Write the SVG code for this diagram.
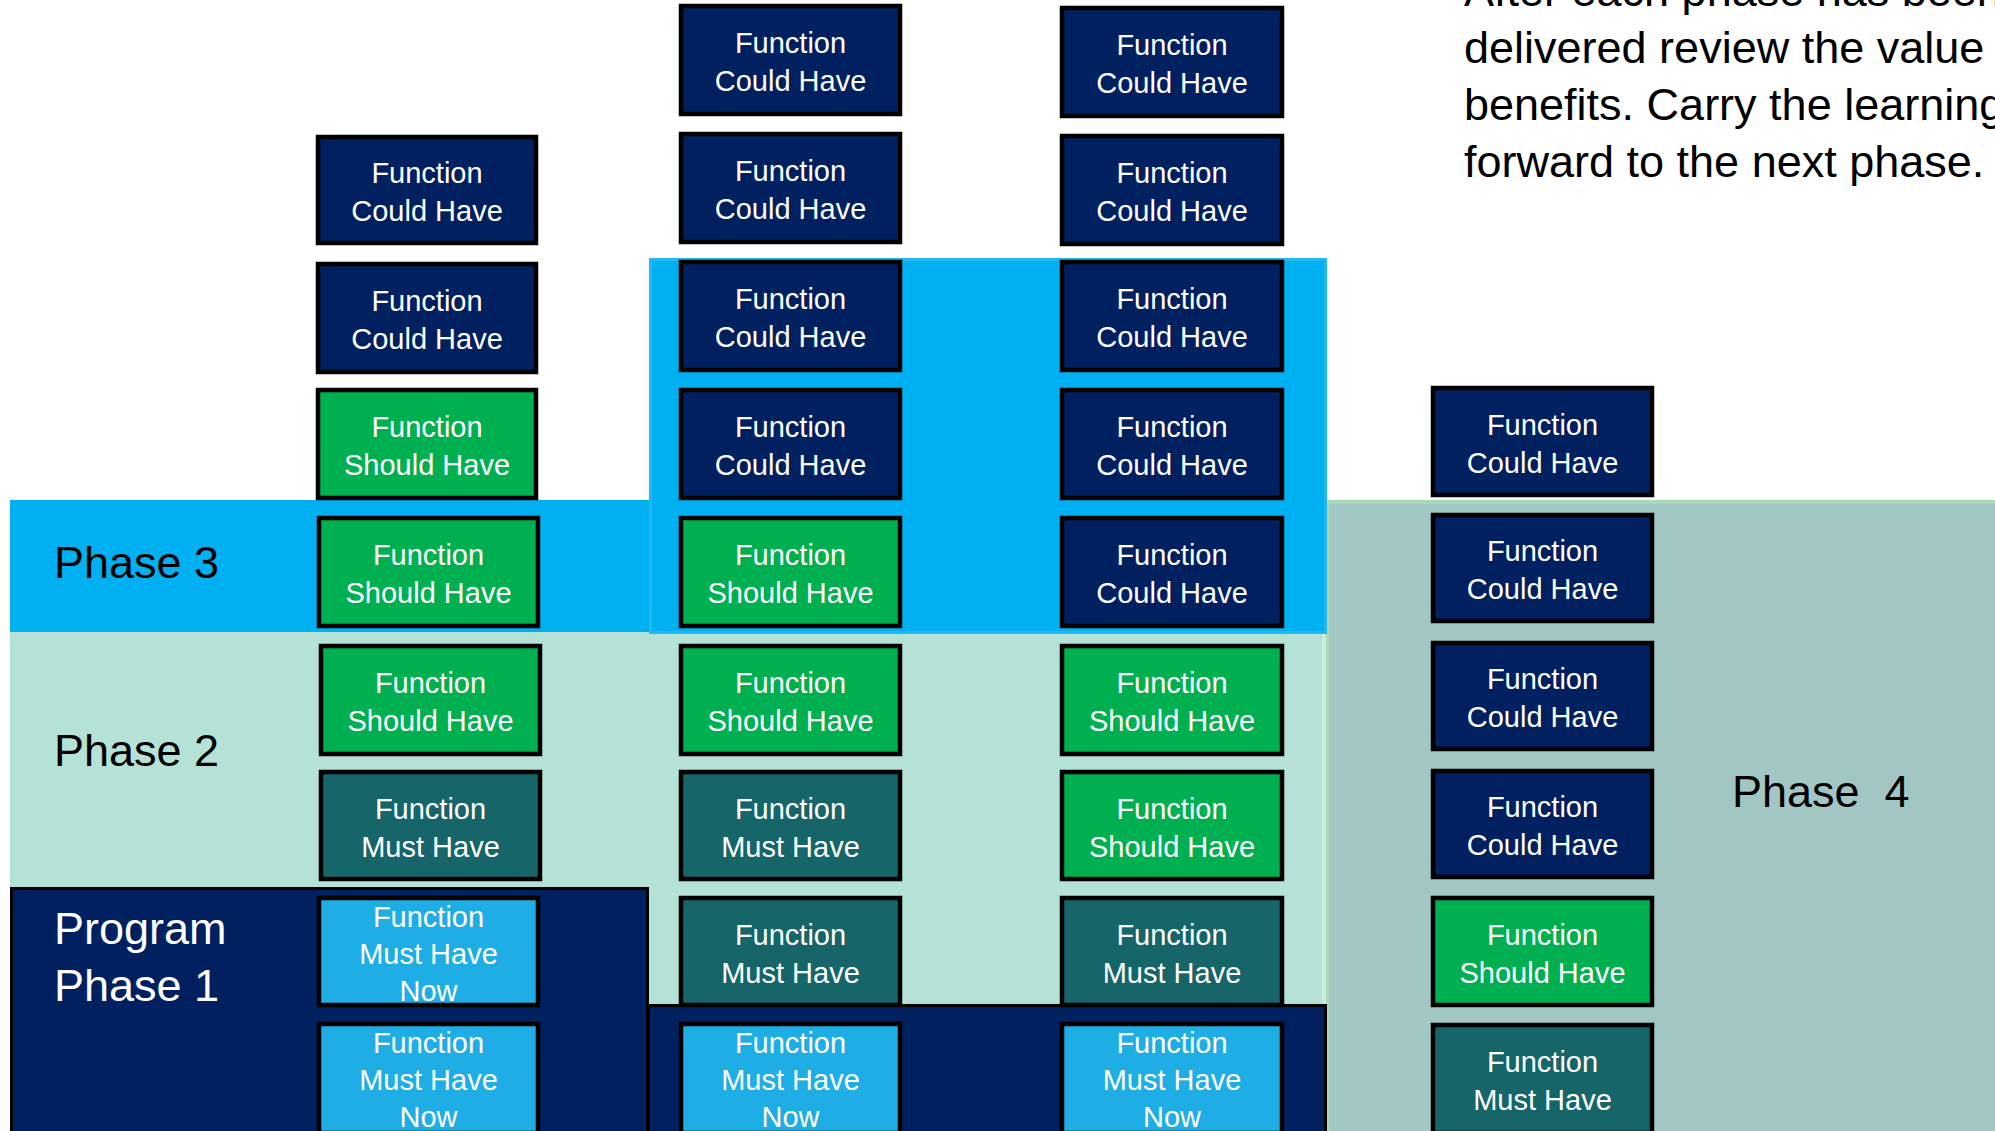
<svg xmlns="http://www.w3.org/2000/svg" width="1995" height="1131" viewBox="0 0 1995 1131">
<style>
.bx{stroke:#000;stroke-width:4.5}
.could{fill:#002060}
.should{fill:#00B050}
.must{fill:#156569}
.now{fill:#1EADE4}
.t{font-family:"Liberation Sans",Arial,sans-serif;font-size:29px;fill:#fff;text-anchor:middle}
.ph{font-family:"Liberation Sans",Arial,sans-serif;font-size:45px;fill:#000}
.para{font-family:"Liberation Sans",Arial,sans-serif;font-size:45px;fill:#000}
</style>
<rect width="1995" height="1131" fill="#fff"/>
<g id="bands">
<rect id="phase4-band" x="1327" y="502" width="670" height="632" fill="#A2C6C3" stroke="#A9D8B8" stroke-width="4"/>
<rect id="phase2-band" x="10" y="632" width="1316" height="500" fill="#B4E2D6"/>
<rect x="1322" y="632" width="4" height="500" fill="#CBEBDD"/>
<rect id="phase3-band-left" x="10" y="500" width="640" height="132" fill="#00B0F0"/>
<rect id="phase3-band-right" x="650.5" y="259.5" width="675" height="373" fill="#00B0F0" stroke="#22B8F0" stroke-width="3"/>
<rect id="phase1-band-left" x="11.5" y="888.5" width="636" height="250" fill="#002060" stroke="#000" stroke-width="3"/>
<rect id="phase1-band-right" x="648.5" y="1005.5" width="677" height="130" fill="#002060" stroke="#000" stroke-width="3"/>
</g>
<g id="labels">
<text id="lbl-phase3" class="ph" x="54" y="578">Phase 3</text>
<text id="lbl-phase2" class="ph" x="54" y="766">Phase 2</text>
<text id="lbl-phase1" class="ph" x="54" y="944" fill="#fff" style="fill:#fff">Program</text>
<text id="lbl-phase1b" class="ph" x="54" y="1001" style="fill:#fff">Phase 1</text>
<text id="lbl-phase4" class="ph" x="1732" y="807" xml:space="preserve">Phase  4</text>
</g>
<g id="note">
<text class="para" x="1464" y="6">After each phase has been</text>
<text class="para" x="1464" y="63">delivered review the value</text>
<text class="para" x="1464" y="120">benefits. Carry the learning</text>
<text class="para" x="1464" y="177">forward to the next phase.</text>
</g>
<g id="connectors"></g>
<!-- Column 1 -->
<g id="c1r1"><rect class="bx could" x="318" y="137" width="218" height="106"/><text class="t" x="427" y="183">Function</text><text class="t" x="427" y="221">Could Have</text></g>
<g id="c1r2"><rect class="bx could" x="318" y="264" width="218" height="108"/><text class="t" x="427" y="311">Function</text><text class="t" x="427" y="349">Could Have</text></g>
<g id="c1r3"><rect class="bx should" x="318" y="390" width="218" height="108"/><text class="t" x="427" y="437">Function</text><text class="t" x="427" y="475">Should Have</text></g>
<g id="c1r4"><rect class="bx should" x="319" y="518" width="219" height="108"/><text class="t" x="428.5" y="565">Function</text><text class="t" x="428.5" y="603">Should Have</text></g>
<g id="c1r5"><rect class="bx should" x="321" y="646" width="219" height="108"/><text class="t" x="430.5" y="693">Function</text><text class="t" x="430.5" y="731">Should Have</text></g>
<g id="c1r6"><rect class="bx must" x="321" y="772" width="219" height="107"/><text class="t" x="430.5" y="819">Function</text><text class="t" x="430.5" y="857">Must Have</text></g>
<g id="c1r7"><rect class="bx now" x="319" y="898" width="219" height="107"/><text class="t" x="428.5" y="927">Function</text><text class="t" x="428.5" y="964">Must Have</text><text class="t" x="428.5" y="1001">Now</text></g>
<g id="c1r8"><rect class="bx now" x="319" y="1024" width="219" height="109"/><text class="t" x="428.5" y="1053">Function</text><text class="t" x="428.5" y="1090">Must Have</text><text class="t" x="428.5" y="1127">Now</text></g>
<!-- Column 2 -->
<g id="c2r1"><rect class="bx could" x="681" y="6" width="219" height="108"/><text class="t" x="790.5" y="53">Function</text><text class="t" x="790.5" y="91">Could Have</text></g>
<g id="c2r2"><rect class="bx could" x="681" y="134" width="219" height="108"/><text class="t" x="790.5" y="181">Function</text><text class="t" x="790.5" y="219">Could Have</text></g>
<g id="c2r3"><rect class="bx could" x="681" y="262" width="219" height="108"/><text class="t" x="790.5" y="309">Function</text><text class="t" x="790.5" y="347">Could Have</text></g>
<g id="c2r4"><rect class="bx could" x="681" y="390" width="219" height="108"/><text class="t" x="790.5" y="437">Function</text><text class="t" x="790.5" y="475">Could Have</text></g>
<g id="c2r5"><rect class="bx should" x="681" y="518" width="219" height="108"/><text class="t" x="790.5" y="565">Function</text><text class="t" x="790.5" y="603">Should Have</text></g>
<g id="c2r6"><rect class="bx should" x="681" y="646" width="219" height="108"/><text class="t" x="790.5" y="693">Function</text><text class="t" x="790.5" y="731">Should Have</text></g>
<g id="c2r7"><rect class="bx must" x="681" y="772" width="219" height="107"/><text class="t" x="790.5" y="819">Function</text><text class="t" x="790.5" y="857">Must Have</text></g>
<g id="c2r8"><rect class="bx must" x="681" y="898" width="219" height="107"/><text class="t" x="790.5" y="945">Function</text><text class="t" x="790.5" y="983">Must Have</text></g>
<g id="c2r9"><rect class="bx now" x="681" y="1024" width="219" height="109"/><text class="t" x="790.5" y="1053">Function</text><text class="t" x="790.5" y="1090">Must Have</text><text class="t" x="790.5" y="1127">Now</text></g>
<!-- Column 3 -->
<g id="c3r1"><rect class="bx could" x="1062" y="8" width="220" height="108"/><text class="t" x="1172" y="55">Function</text><text class="t" x="1172" y="93">Could Have</text></g>
<g id="c3r2"><rect class="bx could" x="1062" y="136" width="220" height="108"/><text class="t" x="1172" y="183">Function</text><text class="t" x="1172" y="221">Could Have</text></g>
<g id="c3r3"><rect class="bx could" x="1062" y="262" width="220" height="108"/><text class="t" x="1172" y="309">Function</text><text class="t" x="1172" y="347">Could Have</text></g>
<g id="c3r4"><rect class="bx could" x="1062" y="390" width="220" height="108"/><text class="t" x="1172" y="437">Function</text><text class="t" x="1172" y="475">Could Have</text></g>
<g id="c3r5"><rect class="bx could" x="1062" y="518" width="220" height="108"/><text class="t" x="1172" y="565">Function</text><text class="t" x="1172" y="603">Could Have</text></g>
<g id="c3r6"><rect class="bx should" x="1062" y="646" width="220" height="108"/><text class="t" x="1172" y="693">Function</text><text class="t" x="1172" y="731">Should Have</text></g>
<g id="c3r7"><rect class="bx should" x="1062" y="772" width="220" height="107"/><text class="t" x="1172" y="819">Function</text><text class="t" x="1172" y="857">Should Have</text></g>
<g id="c3r8"><rect class="bx must" x="1062" y="898" width="220" height="107"/><text class="t" x="1172" y="945">Function</text><text class="t" x="1172" y="983">Must Have</text></g>
<g id="c3r9"><rect class="bx now" x="1062" y="1024" width="220" height="109"/><text class="t" x="1172" y="1053">Function</text><text class="t" x="1172" y="1090">Must Have</text><text class="t" x="1172" y="1127">Now</text></g>
<!-- Column 4 -->
<g id="c4r1"><rect class="bx could" x="1433" y="388" width="219" height="107"/><text class="t" x="1542.5" y="435">Function</text><text class="t" x="1542.5" y="473">Could Have</text></g>
<g id="c4r2"><rect class="bx could" x="1433" y="515" width="219" height="106"/><text class="t" x="1542.5" y="561">Function</text><text class="t" x="1542.5" y="599">Could Have</text></g>
<g id="c4r3"><rect class="bx could" x="1433" y="643" width="219" height="106"/><text class="t" x="1542.5" y="689">Function</text><text class="t" x="1542.5" y="727">Could Have</text></g>
<g id="c4r4"><rect class="bx could" x="1433" y="771" width="219" height="106"/><text class="t" x="1542.5" y="817">Function</text><text class="t" x="1542.5" y="855">Could Have</text></g>
<g id="c4r5"><rect class="bx should" x="1433" y="898" width="219" height="107"/><text class="t" x="1542.5" y="945">Function</text><text class="t" x="1542.5" y="983">Should Have</text></g>
<g id="c4r6"><rect class="bx must" x="1433" y="1025" width="219" height="108"/><text class="t" x="1542.5" y="1072">Function</text><text class="t" x="1542.5" y="1110">Must Have</text></g>
</svg>
